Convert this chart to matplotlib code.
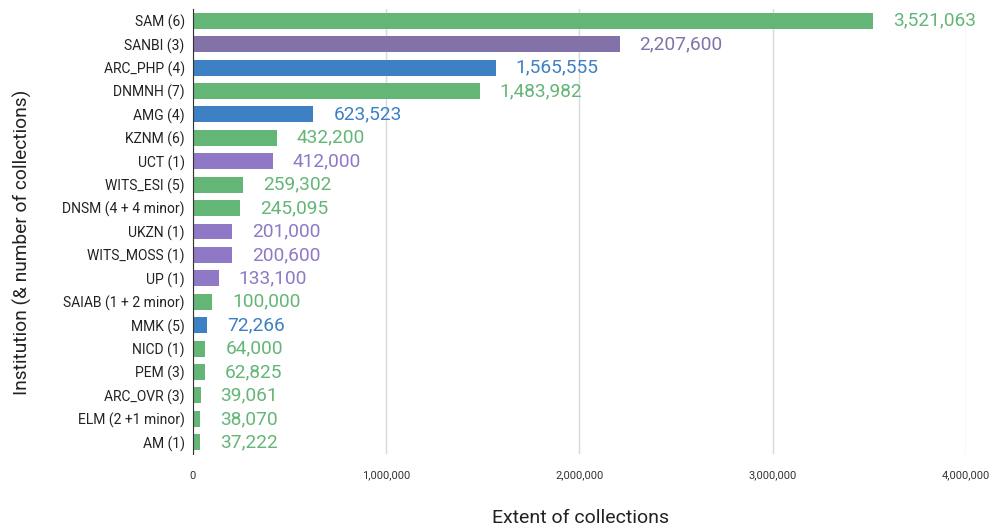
import numpy as np
import matplotlib
matplotlib.use('Agg')
from matplotlib import pyplot as plt

plt.rcParams['font.family'] = ['Roboto', 'DejaVu Sans']

labels = ['SAM (6)', 'SANBI (3)', 'ARC_PHP (4)', 'DNMNH (7)', 'AMG (4)', 'KZNM (6)',
          'UCT (1)', 'WITS_ESI (5)', 'DNSM (4 + 4 minor)', 'UKZN (1)', 'WITS_MOSS (1)',
          'UP (1)', 'SAIAB (1 + 2 minor)', 'MMK (5)', 'NICD (1)', 'PEM (3)',
          'ARC_OVR (3)', 'ELM (2 +1 minor)', 'AM (1)']
values = [3521063, 2207600, 1565555, 1483982, 623523, 432200,
          412000, 259302, 245095, 201000, 200600,
          133100, 100000, 72266, 64000, 62825,
          39061, 38070, 37222]
groups = ['g', 'p2', 'b', 'g', 'b', 'g',
          'p', 'g', 'g', 'p', 'p',
          'p', 'g', 'b', 'g', 'g',
          'g', 'g', 'g']

cmap = {'g': '#64b677', 'p': '#8f79c6', 'p2': '#8272a8', 'b': '#3d80c4'}
colors = [cmap[k] for k in groups]

fig = plt.figure(figsize=(9.95, 5.28), dpi=100)
ax = fig.add_axes([193/995, 1-454/528, (966-193)/995, (454-9)/528])

y = np.arange(len(labels))
ax.barh(y, values, height=0.68, color=colors, zorder=3)
for yi, v, c in zip(y, values, colors):
    ax.annotate(f'{v:,}', (v, yi), xytext=(20, 0), textcoords='offset pixels',
                va='center', ha='left', color=c, fontsize=13.8, zorder=4)

ax.set_ylim(len(labels) - 0.5, -0.5)
ax.set_xlim(0, 4000000)
ax.set_xticks([0, 1000000, 2000000, 3000000, 4000000])
ax.set_xticklabels(['0', '1,000,000', '2,000,000', '3,000,000', '4,000,000'], fontsize=8, color='#333333')
ax.set_yticks(y)
ax.set_yticklabels(labels, fontsize=10, color='#222222')
ax.tick_params(length=0, pad=6)
ax.tick_params(axis='x', pad=12)
ax.grid(axis='x', color='#d9d9d9', lw=1, zorder=0)
for s in ['top', 'right', 'bottom']:
    ax.spines[s].set_visible(False)
ax.spines['left'].set_color('#333333')
ax.spines['left'].set_zorder(5)

fig.text(581/995, 1-518/528, 'Extent of collections', fontsize=14, color='#222222',
         ha='center', va='center')
fig.text(22/995, 1-242/528, 'Institution (& number of collections)', rotation=90,
         fontsize=13.8, color='#222222', ha='center', va='center')

fig.savefig('out.png', dpi=100)
